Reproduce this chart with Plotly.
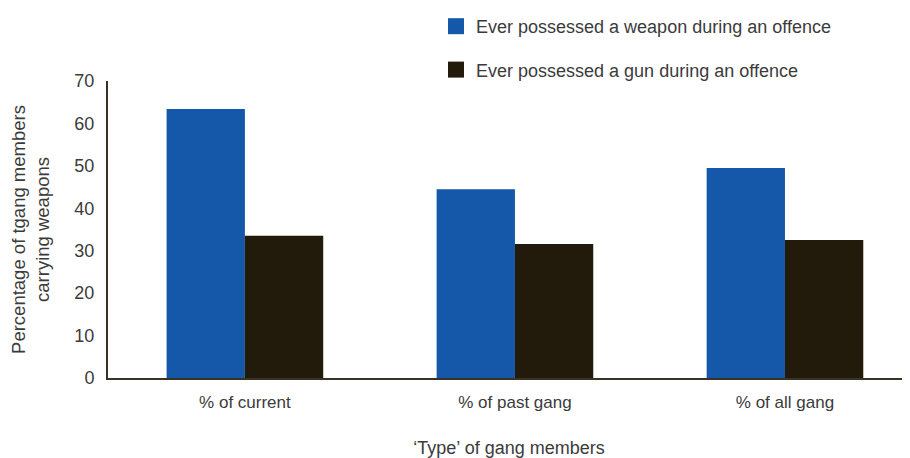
import plotly.graph_objects as go

categories = ["% of current", "% of past gang", "% of all gang"]
weapon = [63.4, 44.5, 49.5]
gun = [33.5, 31.6, 32.5]
series_names = ["Ever possessed a weapon during an offence", "Ever possessed a gun during an offence"]
colors = ["#1557a8", "#221a0a"]
y_ticks = [0, 10, 20, 30, 40, 50, 60, 70]

font_family = "Liberation Sans, Arial, sans-serif"
text_color = "#3b3b3b"

fig = go.Figure()
fig.add_trace(go.Bar(x=categories, y=weapon, name=series_names[0], marker_color=colors[0],
                     marker_line_width=0, showlegend=False))
fig.add_trace(go.Bar(x=categories, y=gun, name=series_names[1], marker_color=colors[1],
                     marker_line_width=0, showlegend=False))
# legend entries with larger square swatches
for i, nm in enumerate(series_names):
    fig.add_trace(go.Scatter(x=[None], y=[None], mode="markers", name=nm, legendgroup=nm,
                             marker=dict(symbol="square", size=16, color=colors[i]),
                             showlegend=True))

# page body has an 8px margin, so the figure is 902x450
fig.update_layout(
    width=902, height=450,
    margin=dict(l=100, r=0, t=73, b=80, autoexpand=False),
    paper_bgcolor="white", plot_bgcolor="white",
    barmode="group", bargap=0.42, bargroupgap=0,
    font=dict(family=font_family, color=text_color, size=16),
    showlegend=True,
    legend=dict(x=0.409, y=1.0, xref="paper", yref="container", xanchor="left", yanchor="top",
                font=dict(size=18, color=text_color), tracegroupgap=17,
                itemwidth=30, bgcolor="rgba(0,0,0,0)"),
    xaxis=dict(type="category", range=[-0.507, 2.463], showline=True, linecolor="#3a3222", linewidth=2,
               showgrid=False, ticks="", tickfont=dict(size=17, color=text_color),
               ticklabelstandoff=8, automargin=False,
               title=dict(text="‘Type’ of gang members", font=dict(size=18, color=text_color), standoff=31)),
    yaxis=dict(range=[0, 70], tickvals=y_ticks, showline=True, linecolor="#3a3222", linewidth=2,
               showgrid=False, zeroline=False, ticks="", tickfont=dict(size=18, color=text_color),
               ticklabelstandoff=8, automargin=False,
               title=dict(text="Percentage of tgang members<br>carrying weapons",
                          font=dict(size=18.5, color=text_color), standoff=22)),
)

fig.write_html("out.html")
